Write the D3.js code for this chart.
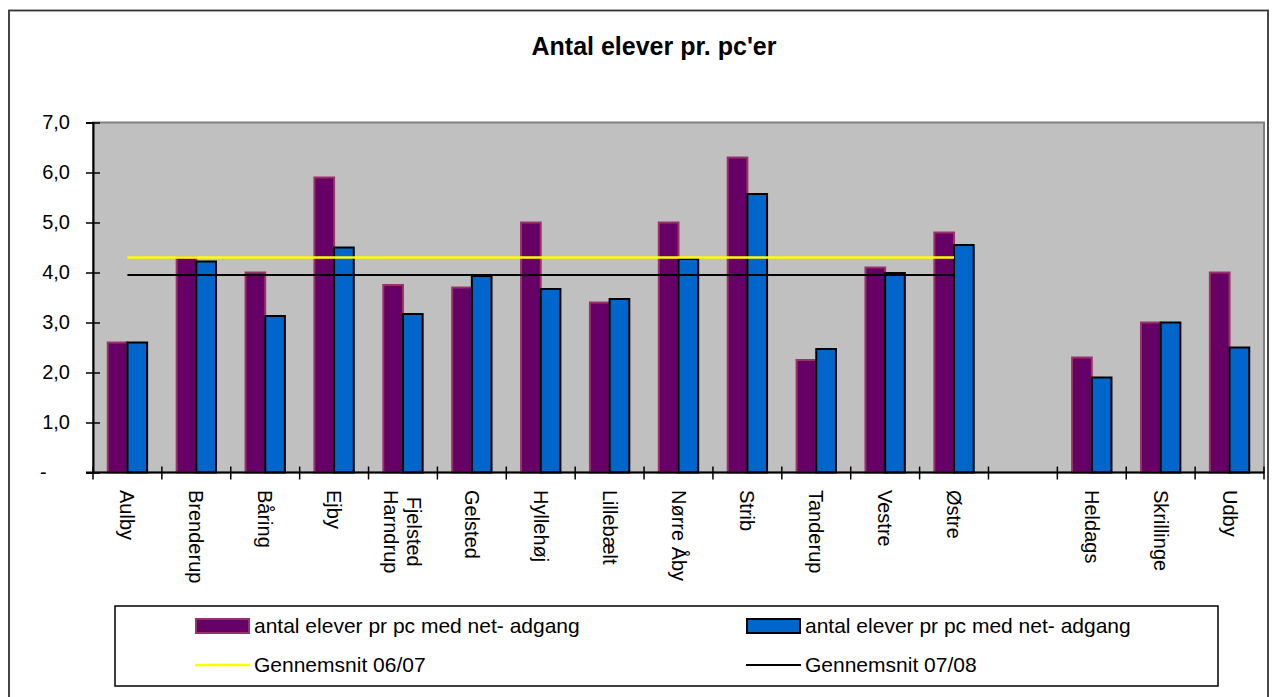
<!DOCTYPE html>
<html>
  <head>
    <title>Antal elever pr. pc'er</title>
    <script src="https://cdn.jsdelivr.net/npm/d3@7"></script>
    <style type="text/css">

html, body {
  margin: 0;
  background: #fff;
}

svg {
  display: block;
  font-family: "Liberation Sans", Arial, sans-serif;
}

    </style>
  </head>
  <body>
    <script type="text/javascript">

var categories = ["Aulby", "Brenderup", "Båring", "Ejby", "Fjelsted\nHarndrup", "Gelsted",
  "Hyllehøj", "Lillebælt", "Nørre Åby", "Strib", "Tanderup", "Vestre", "Østre", "",
  "Heldags", "Skrillinge", "Udby"];
var elever0607 = [2.6, 4.3, 4.0, 5.9, 3.75, 3.7, 5.0, 3.4, 5.0, 6.3, 2.25, 4.1, 4.8, null, 2.3, 3.0, 4.0];
var elever0708 = [2.6, 4.22, 3.13, 4.5, 3.17, 3.93, 3.67, 3.47, 4.27, 5.57, 2.47, 3.99, 4.55, null, 1.9, 3.0, 2.5];
var snit0607 = 4.3;
var snit0708 = 3.95;
var snitFirst = 0, snitLast = 12;   // averages span Aulby .. Østre
var yTicks = [0, 1, 2, 3, 4, 5, 6, 7];
var legendLabels = ["antal elever pr pc med net- adgang", "antal elever pr pc med net- adgang",
  "Gennemsnit 06/07", "Gennemsnit 07/08"];

var W = 1274, H = 697;
var plot = {left: 93, right: 1264, top: 122.5, bottom: 472.5};

var svg = d3.select("body").append("svg")
    .attr("width", W)
    .attr("height", H);

// chart border (bottom runs off the picture)
svg.append("rect")
    .attr("x", 9).attr("y", 10.5)
    .attr("width", 1259).attr("height", 700)
    .attr("fill", "none")
    .attr("stroke", "#333")
    .attr("stroke-width", 1.8);

var x = d3.scaleBand()
    .domain(d3.range(categories.length))
    .range([plot.left, plot.right])
    .paddingInner(0).paddingOuter(0);

var y = d3.scaleLinear()
    .domain([0, 7])
    .range([plot.bottom, plot.top]);

var bw = x.step() / 3.5;

// plot area
svg.append("rect")
    .attr("x", plot.left).attr("y", plot.top)
    .attr("width", plot.right - plot.left).attr("height", plot.bottom - plot.top)
    .attr("fill", "#c0c0c0")
    .attr("stroke", "#808080")
    .attr("stroke-width", 2);

// bars
var g = svg.append("g");
g.selectAll("rect.s1")
    .data(elever0607.map(function(v, i) { return {i: i, v: v}; }).filter(function(d) { return d.v != null; }))
  .enter().append("rect")
    .attr("class", "s1")
    .attr("x", function(d) { return x(d.i) + x.step() / 2 - bw; })
    .attr("y", function(d) { return y(d.v); })
    .attr("width", bw)
    .attr("height", function(d) { return y(0) - y(d.v); })
    .attr("fill", "#660066")
    .attr("stroke", "#993366")
    .attr("stroke-width", 2);

g.selectAll("rect.s2")
    .data(elever0708.map(function(v, i) { return {i: i, v: v}; }).filter(function(d) { return d.v != null; }))
  .enter().append("rect")
    .attr("class", "s2")
    .attr("x", function(d) { return x(d.i) + x.step() / 2; })
    .attr("y", function(d) { return y(d.v); })
    .attr("width", bw)
    .attr("height", function(d) { return y(0) - y(d.v); })
    .attr("fill", "#0066cc")
    .attr("stroke", "#000")
    .attr("stroke-width", 2);

// average lines
var cx = function(i) { return x(i) + x.step() / 2; };
svg.append("line")
    .attr("x1", cx(snitFirst)).attr("x2", cx(snitLast))
    .attr("y1", y(snit0607)).attr("y2", y(snit0607))
    .attr("stroke", "#ffff00").attr("stroke-width", 2.5);
svg.append("line")
    .attr("x1", cx(snitFirst)).attr("x2", cx(snitLast))
    .attr("y1", y(snit0708)).attr("y2", y(snit0708))
    .attr("stroke", "#000").attr("stroke-width", 2);

// y axis
var yAxis = svg.append("g")
    .attr("transform", "translate(" + plot.left + ",0)")
    .call(d3.axisLeft(y).tickValues(yTicks).tickSize(7)
      .tickFormat(function(d) { return d === 0 ? "-" : d3.format(".1f")(d).replace(".", ","); }));
yAxis.select(".domain").attr("stroke", "#000").attr("stroke-width", 2);
yAxis.selectAll(".tick line").attr("x1", 7).attr("stroke", "#000").attr("stroke-width", 1.5);
yAxis.selectAll(".tick text")
    .attr("x", -23)
    .attr("fill", "#000")
    .style("font-size", "20px");
yAxis.selectAll(".tick text").filter(function(d) { return d === 0; })
    .attr("text-anchor", "start")
    .attr("x", 40 - plot.left);

// x axis
svg.append("line")
    .attr("x1", plot.left - 7).attr("x2", plot.right)
    .attr("y1", plot.bottom).attr("y2", plot.bottom)
    .attr("stroke", "#000").attr("stroke-width", 2);
svg.selectAll("line.xtick")
    .data(d3.range(categories.length + 1))
  .enter().append("line")
    .attr("class", "xtick")
    .attr("x1", function(i) { return i < categories.length ? x(i) : plot.right; })
    .attr("x2", function(i) { return i < categories.length ? x(i) : plot.right; })
    .attr("y1", plot.bottom - 6).attr("y2", plot.bottom + 7)
    .attr("stroke", "#000").attr("stroke-width", 1.5);

var labelTop = 490, lineGap = 23;
categories.forEach(function(name, i) {
  if (!name) return;
  var lines = name.split("\n");
  var t = svg.append("text")
      .attr("transform", "translate(" + cx(i) + "," + labelTop + ") rotate(90)")
      .style("font-size", "20px")
      .attr("fill", "#000");
  var spans = lines.map(function(l, k) {
    return t.append("tspan")
        .attr("x", 0)
        .attr("y", (k - (lines.length - 1) / 2) * lineGap)
        .attr("dy", "0.35em")
        .text(l);
  });
  var widths = spans.map(function(s) { return s.node().getComputedTextLength(); });
  var maxW = d3.max(widths);
  spans.forEach(function(s, k) { s.attr("x", (maxW - widths[k]) / 2); });
});

// title
svg.append("text")
    .attr("x", 654).attr("y", 55)
    .attr("text-anchor", "middle")
    .style("font-size", "25px")
    .style("font-weight", "bold")
    .text("Antal elever pr. pc'er");

// legend
var lg = svg.append("g");
lg.append("rect")
    .attr("x", 115).attr("y", 606)
    .attr("width", 1103).attr("height", 80)
    .attr("fill", "#fff")
    .attr("stroke", "#000").attr("stroke-width", 1.5);

var legendPos = [[195, 626], [746, 626], [195, 665], [746, 665]];
legendLabels.forEach(function(label, k) {
  var p = legendPos[k];
  if (k === 0) {
    lg.append("rect").attr("x", p[0] + 1).attr("y", p[1] - 7).attr("width", 53).attr("height", 14)
        .attr("fill", "#660066").attr("stroke", "#993366").attr("stroke-width", 2);
  } else if (k === 1) {
    lg.append("rect").attr("x", p[0] + 1).attr("y", p[1] - 7).attr("width", 53).attr("height", 14)
        .attr("fill", "#0066cc").attr("stroke", "#000").attr("stroke-width", 2);
  } else {
    lg.append("line").attr("x1", p[0]).attr("x2", p[0] + 55).attr("y1", p[1]).attr("y2", p[1])
        .attr("stroke", k === 2 ? "#ffff00" : "#000").attr("stroke-width", k === 2 ? 2.5 : 2);
  }
  lg.append("text")
      .attr("x", p[0] + 59).attr("y", p[1])
      .attr("dy", "0.35em")
      .style("font-size", "21px")
      .text(label);
});

    </script>
  </body>
</html>
